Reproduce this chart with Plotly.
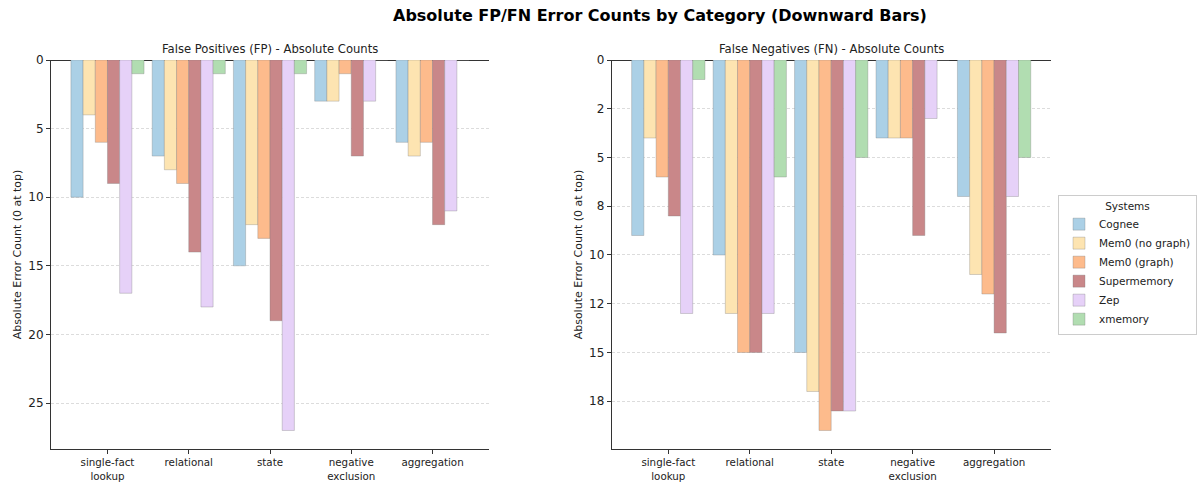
import plotly.graph_objects as go

categories = ["single-fact<br>lookup", "relational", "state", "negative<br>exclusion", "aggregation"]
systems = ["Cognee", "Mem0 (no graph)", "Mem0 (graph)", "Supermemory", "Zep", "xmemory"]
colors = ["#abd0e6", "#fde4b1", "#fdbb8c", "#c98789", "#e6d1f8", "#b1ddb1"]

fp_cognee = [10, 7, 15, 3, 6]
fp_mem0_nograph = [4, 8, 12, 3, 7]
fp_mem0_graph = [6, 9, 13, 1, 6]
fp_supermemory = [9, 14, 19, 7, 12]
fp_zep = [17, 18, 27, 3, 11]
fp_xmemory = [1, 1, 1, 0, 0]

fn_cognee = [9, 10, 15, 4, 7]
fn_mem0_nograph = [4, 13, 17, 4, 11]
fn_mem0_graph = [6, 15, 19, 4, 12]
fn_supermemory = [8, 15, 18, 9, 14]
fn_zep = [13, 13, 18, 3, 7]
fn_xmemory = [1, 6, 5, 0, 5]

fp_ticks = [0, 5, 10, 15, 20, 25]
fn_ticks = [0, 2.5, 5, 7.5, 10, 12.5, 15, 17.5]
fn_tick_labels = ["0", "2", "5", "8", "10", "12", "15", "18"]

fp_series = [fp_cognee, fp_mem0_nograph, fp_mem0_graph, fp_supermemory, fp_zep, fp_xmemory]
fn_series = [fn_cognee, fn_mem0_nograph, fn_mem0_graph, fn_supermemory, fn_zep, fn_xmemory]

W, H = 1197, 482
fig = go.Figure()

for i, name in enumerate(systems):
    fig.add_trace(go.Bar(x=categories, y=fp_series[i], name=name, marker_color=colors[i],
                         marker_line=dict(color="rgba(120,120,120,0.4)", width=0.8),
                         xaxis="x", yaxis="y", legendgroup=name, showlegend=True))
for i, name in enumerate(systems):
    fig.add_trace(go.Bar(x=categories, y=fn_series[i], name=name, marker_color=colors[i],
                         marker_line=dict(color="rgba(120,120,120,0.4)", width=0.8),
                         xaxis="x2", yaxis="y2", legendgroup=name, showlegend=False))

fp_max = max(max(s) for s in fp_series) * 1.05
fn_max = max(max(s) for s in fn_series) * 1.05

axis_common = dict(showline=True, linecolor="#333", linewidth=1, ticks="outside",
                   ticklen=4, tickcolor="#333", mirror=False, automargin=False)
yt = 1 - 60 / H
yb = 1 - 449 / H
xr = [-0.695, 4.695]
grid = dict(showgrid=True, gridcolor="#dcdcdc", griddash="3px,2px", gridwidth=0.7,
            zeroline=True, zerolinecolor="#333", zerolinewidth=1)
ytitle = dict(text="Absolute Error Count (0 at top)", font=dict(size=11), standoff=4)

fig.update_layout(
    width=W, height=H,
    margin=dict(l=0, r=0, t=0, b=0, pad=0, autoexpand=False),
    paper_bgcolor="white", plot_bgcolor="white",
    font=dict(family="DejaVu Sans", color="#222", size=11),
    barmode="group", bargap=0.1, bargroupgap=0,
    xaxis=dict(domain=[51 / W, 489 / W], anchor="y", range=xr, showgrid=False,
               tickfont=dict(size=10.3), **axis_common),
    yaxis=dict(domain=[yb, yt], anchor="x", range=[fp_max, 0], tickvals=fp_ticks,
               tickfont=dict(size=12), title=ytitle, **grid, **axis_common),
    xaxis2=dict(domain=[611.7 / W, 1050.7 / W], anchor="y2", range=xr, showgrid=False,
                tickfont=dict(size=10.3), **axis_common),
    yaxis2=dict(domain=[yb, yt], anchor="x2", range=[fn_max, 0], tickvals=fn_ticks,
                ticktext=fn_tick_labels, tickfont=dict(size=12), title=ytitle,
                **grid, **axis_common),
    legend=dict(x=1, y=1 - 195 / H, xanchor="right", yanchor="top",
                bordercolor="#cccccc", borderwidth=1, bgcolor="white",
                font=dict(size=10.5), tracegroupgap=0, itemwidth=30,
                title=dict(text="Systems", side="top center", font=dict(size=10.5))),
    annotations=[
        dict(text="<b>Absolute FP/FN Error Counts by Category (Downward Bars)</b>",
             x=660 / W, y=1 - 16 / H, xref="paper", yref="paper", showarrow=False,
             xanchor="center", yanchor="middle", font=dict(size=16, color="black")),
        dict(text="False Positives (FP) - Absolute Counts", x=(51 + 489) / 2 / W, y=1 - 49 / H,
             xref="paper", yref="paper", showarrow=False, xanchor="center", yanchor="middle",
             font=dict(size=11.6, color="#222")),
        dict(text="False Negatives (FN) - Absolute Counts", x=(611.7 + 1050.7) / 2 / W, y=1 - 49 / H,
             xref="paper", yref="paper", showarrow=False, xanchor="center", yanchor="middle",
             font=dict(size=11.6, color="#222")),
    ],
)

fig.write_html("out.html", config={"displayModeBar": False},
               post_script="document.body.style.margin='0';document.body.style.overflow='hidden';")
